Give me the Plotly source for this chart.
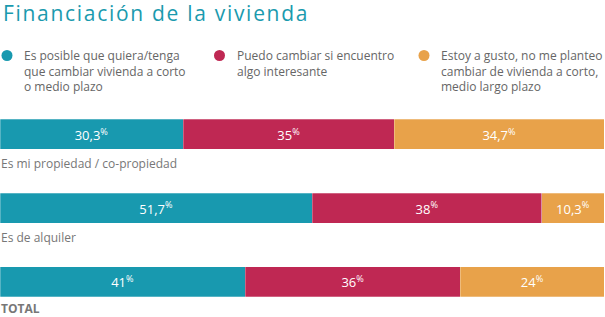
import plotly.graph_objects as go

categories = ["Es mi propiedad / co-propiedad", "Es de alquiler", "TOTAL"]
category_labels = ["Es mi propiedad / co-propiedad", "Es de alquiler", "<b>TOTAL</b>"]
series_names = [
    ["Es posible que quiera/tenga", "que cambiar vivienda a corto", "o medio plazo"],
    ["Puedo cambiar si encuentro", "algo interesante"],
    ["Estoy a gusto, no me planteo", "cambiar de vivienda a corto,", "medio largo plazo"],
]
s1 = [30.3, 51.7, 41]
s2 = [35, 38, 36]
s3 = [34.7, 10.3, 24]
colors = ["#1899AF", "#BF2853", "#E8A24A"]

W, H = 605, 317
series = [s1, s2, s3]
totals = [a + b + c for a, b, c in zip(s1, s2, s3)]


def fmt(v):
    s = ("%g" % v).replace(".", ",")
    return s + "<sup>%</sup>"


fig = go.Figure()
for vals, name, col in zip(series, series_names, colors):
    fig.add_trace(go.Bar(
        y=categories,
        x=[v / t * 100 for v, t in zip(vals, totals)],
        orientation="h",
        name=" ".join(name),
        marker=dict(color=col, line=dict(color="rgba(255,255,255,0.45)", width=0.6)),
        width=0.408,
        text=[fmt(v) for v in vals],
        textposition="inside",
        insidetextanchor="middle",
        textfont=dict(color="white", size=13, family="Open Sans"),
        hoverinfo="skip",
    ))

annotations = []
# Title
annotations.append(dict(
    text="Financiación de la vivienda", x=0, y=1, xref="paper", yref="paper",
    xanchor="left", yanchor="top", showarrow=False, xshift=1, yshift=3,
    font=dict(family="Open Sans", size=21, color="#1A9AAE"),
))
# Legend
legend_x = [7, 219.5, 424]
shapes = []
for lx, lines, col in zip(legend_x, series_names, colors):
    r = 5.5
    cy = 55.5
    shapes.append(dict(
        type="circle", xref="paper", yref="paper",
        x0=(lx - r) / W, x1=(lx + r) / W, y0=1 - (cy + r) / H, y1=1 - (cy - r) / H,
        fillcolor=col, line=dict(width=0),
    ))
    annotations.append(dict(
        text="<br>".join(lines), x=(lx + 15) / W, y=1 - 45 / H, xref="paper", yref="paper",
        xanchor="left", yanchor="top", align="left", showarrow=False,
        font=dict(family="Open Sans", size=12, color="#666666"),
    ))
# Category labels below bars
label_shift = [-29, -29, -27]
for cat, lab, sh in zip(categories, category_labels, label_shift):
    annotations.append(dict(
        text=lab, x=0, y=cat, xref="paper", yref="y",
        xanchor="left", yanchor="middle", showarrow=False, yshift=sh, xshift=-1,
        font=dict(family="Open Sans", size=12, color="#777777"),
    ))

fig.update_layout(
    width=W, height=H,
    margin=dict(l=0, r=0, t=0, b=0),
    barmode="stack",
    showlegend=False,
    paper_bgcolor="white",
    plot_bgcolor="white",
    xaxis=dict(range=[0, 100], domain=[0, 604 / 605], visible=False, fixedrange=True),
    yaxis=dict(
        categoryorder="array", categoryarray=categories,
        range=[2.480, -1.827], visible=False, fixedrange=True,
    ),
    annotations=annotations,
    shapes=shapes,
    uniformtext=dict(minsize=8, mode="show"),
)

post = """
var gd = document.getElementById('{plot_id}');
var t = gd.querySelector('.annotation-text');
if (t) {
  var b0 = t.getBBox();
  t.style.letterSpacing = '1.7px';
  var b1 = t.getBBox();
  var x = parseFloat(t.getAttribute('x') || '0');
  t.setAttribute('x', x + (b0.x - b1.x));
}
"""

fig.write_html("out.html", config={"displayModeBar": False}, post_script=post)
